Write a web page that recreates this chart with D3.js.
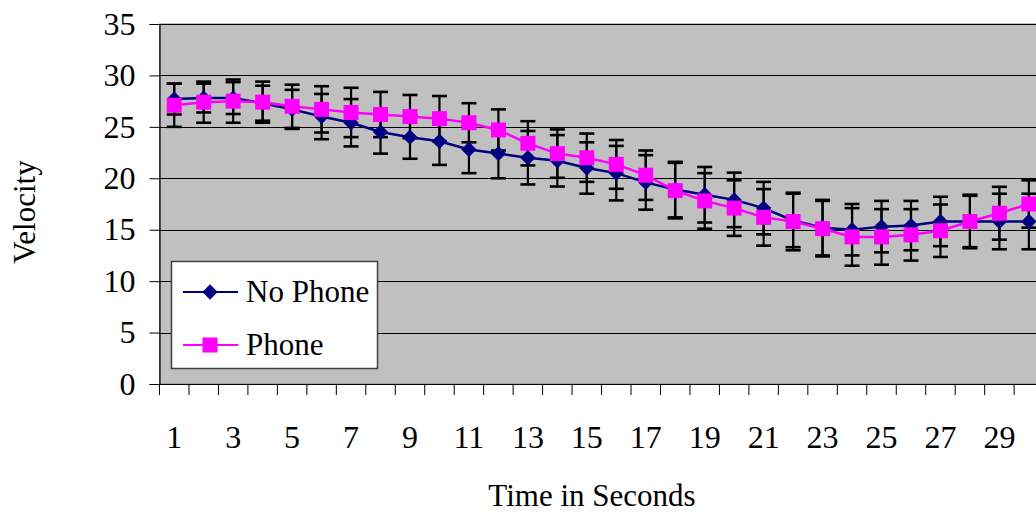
<!DOCTYPE html>
<html>
<head>
<meta charset="utf-8">
<script src="https://cdn.jsdelivr.net/npm/d3@7/dist/d3.min.js"></script>
<style>
  html, body { margin: 0; padding: 0; background: #fff; }
  svg { display: block; }
  text { font-family: "Liberation Serif", "Times New Roman", serif; fill: #000; }
</style>
</head>
<body>
<svg id="chart" width="1036" height="514"></svg>
<script>
// ---- data ----
const categories = d3.range(1, 31);
const tickLabels = categories.filter(d => d % 2 === 1);
const yTicks = [0, 5, 10, 15, 20, 25, 30, 35];

const noPhone = [27.7, 27.8, 27.8, 27.3, 26.7, 26.0, 25.4, 24.5, 24.0, 23.6,
                 22.8, 22.4, 22.0, 21.7, 21.0, 20.5, 19.6, 18.9, 18.4, 17.9,
                 17.1, 15.9, 15.2, 15.0, 15.3, 15.4, 15.8, 15.8, 15.8, 15.8];
const noPhoneErr = [1.5, 1.4, 1.55, 1.7, 1.9, 2.2, 2.3, 2.1, 2.1, 2.3,
                    2.3, 2.4, 2.6, 2.5, 2.5, 2.65, 2.65, 2.7, 2.7, 2.65,
                    2.55, 2.6, 2.7, 2.5, 2.5, 2.4, 2.4, 2.5, 2.7, 2.7];
const phone = [27.1, 27.4, 27.5, 27.4, 27.0, 26.7, 26.4, 26.2, 26.0, 25.8,
               25.4, 24.7, 23.4, 22.4, 22.0, 21.35, 20.3, 18.8, 17.8, 17.1,
               16.2, 15.8, 15.1, 14.3, 14.3, 14.5, 14.9, 15.8, 16.6, 17.5];
const phoneErr = [2.1, 2.0, 2.1, 2.0, 2.1, 2.25, 2.4, 2.2, 2.1, 2.2,
                  1.9, 2.0, 2.15, 2.35, 2.35, 2.37, 2.4, 2.7, 2.7, 2.7,
                  2.75, 2.8, 2.7, 2.8, 2.7, 2.5, 2.55, 2.6, 2.57, 2.3];

const seriesNames = ["No Phone", "Phone"];
const seriesColors = ["#000080", "#FF00FF"];

// ---- layout ----
const svg = d3.select("#chart");
const plotLeft = 159.5, plotTop = 24, plotBottom = 384;
const bandW = 29.47;
const plotRight = plotLeft + bandW * categories.length;

const x = d3.scaleBand().domain(categories).range([plotLeft, plotRight]);
const y = d3.scaleLinear().domain([0, 35]).range([plotBottom, plotTop]);
const cx = d => x(d) + x.bandwidth() / 2;

// plot area
svg.append("rect").attr("x", plotLeft).attr("y", plotTop)
  .attr("width", plotRight - plotLeft).attr("height", plotBottom - plotTop)
  .attr("fill", "#C0C0C0").attr("stroke", "#808080").attr("stroke-width", 1);

// gridlines
svg.append("g").selectAll("line").data(yTicks.filter(v => v > 0)).join("line")
  .attr("x1", plotLeft).attr("x2", plotRight)
  .attr("y1", d => Math.round(y(d)) + 0.5).attr("y2", d => Math.round(y(d)) + 0.5)
  .attr("stroke", "#000").attr("stroke-width", 1);

// y axis
const yAxis = d3.axisLeft(y).tickValues(yTicks).tickSize(10).tickPadding(14);
const gy = svg.append("g").attr("transform", `translate(${plotLeft},0)`).call(yAxis);
gy.select(".domain").attr("stroke", "#000").attr("stroke-width", 1.2);
gy.selectAll(".tick line").attr("stroke", "#000");
gy.selectAll(".tick text").attr("font-size", 32).attr("font-family", '"Liberation Serif", serif').attr("fill", "#000");

// x axis
const xAxis = d3.axisBottom(x).tickValues([]).tickSizeOuter(0);
const gx = svg.append("g").attr("transform", `translate(0,${plotBottom})`).call(xAxis);
gx.select(".domain").attr("stroke", "#000").attr("stroke-width", 1.2);
// tick marks at category boundaries
svg.append("g").selectAll("line").data(categories).join("line")
  .attr("x1", d => x(d)).attr("x2", d => x(d))
  .attr("y1", plotBottom).attr("y2", plotBottom + 11)
  .attr("stroke", "#000").attr("stroke-width", 1);
svg.append("g").selectAll("text").data(tickLabels).join("text")
  .attr("x", d => cx(d)).attr("y", 448)
  .attr("text-anchor", "middle").attr("font-size", 32)
  .text(d => d);

// axis titles
svg.append("text").attr("transform", "translate(35,212) rotate(-90)")
  .attr("text-anchor", "middle").attr("font-size", 31).text("Velocity");
svg.append("text").attr("x", 592).attr("y", 506)
  .attr("text-anchor", "middle").attr("font-size", 31).text("Time in Seconds");

// ---- series ----
const allSeries = [
  { name: seriesNames[0], color: seriesColors[0], vals: noPhone, err: noPhoneErr, marker: "diamond" },
  { name: seriesNames[1], color: seriesColors[1], vals: phone, err: phoneErr, marker: "square" }
];

const capW = 15;
const eg = svg.append("g");
allSeries.forEach(s => {
  const data = categories.map((c, i) => ({ c, v: s.vals[i], e: s.err[i] }));
  const g = eg.append("g");
  g.selectAll("line.v").data(data).join("line").attr("class", "v")
    .attr("x1", d => cx(d.c)).attr("x2", d => cx(d.c))
    .attr("y1", d => y(d.v - d.e)).attr("y2", d => y(d.v + d.e))
    .attr("stroke", "#000").attr("stroke-width", 2.2);
  [1, -1].forEach((sign, k) => {
    g.selectAll("line.c" + k).data(data).join("line").attr("class", "c" + k)
      .attr("x1", d => cx(d.c) - capW / 2).attr("x2", d => cx(d.c) + capW / 2)
      .attr("y1", d => y(d.v + sign * d.e)).attr("y2", d => y(d.v + sign * d.e))
      .attr("stroke", "#000").attr("stroke-width", 2.6);
  });
});

const line = d3.line().x(d => cx(d.c)).y(d => y(d.v));
const symDiamond = d3.symbol().type(d3.symbolDiamond2).size(150);
const symSquare = d3.symbol().type(d3.symbolSquare).size(225);

allSeries.forEach(s => {
  const data = categories.map((c, i) => ({ c, v: s.vals[i] }));
  const g = svg.append("g");
  g.append("path").datum(data).attr("d", line)
    .attr("fill", "none").attr("stroke", s.color).attr("stroke-width", 2.5);
  g.selectAll("path.m").data(data).join("path").attr("class", "m")
    .attr("transform", d => `translate(${cx(d.c)},${y(d.v)})`)
    .attr("d", s.marker === "diamond" ? symDiamond : symSquare)
    .attr("fill", s.color);
});

// ---- legend ----
const lg = svg.append("g");
lg.append("rect").attr("x", 171.5).attr("y", 261.5).attr("width", 206).attr("height", 107)
  .attr("fill", "#fff").attr("stroke", "#404040").attr("stroke-width", 1.5);
allSeries.forEach((s, i) => {
  const ly = 292 + i * 53;
  lg.append("line").attr("x1", 183).attr("x2", 238).attr("y1", ly).attr("y2", ly)
    .attr("stroke", s.color).attr("stroke-width", 2);
  lg.append("path").attr("transform", `translate(210,${ly})`)
    .attr("d", s.marker === "diamond" ? symDiamond : symSquare).attr("fill", s.color);
  lg.append("text").attr("x", 246).attr("y", ly + 10).attr("font-size", 31).text(s.name);
});
</script>
</body>
</html>
